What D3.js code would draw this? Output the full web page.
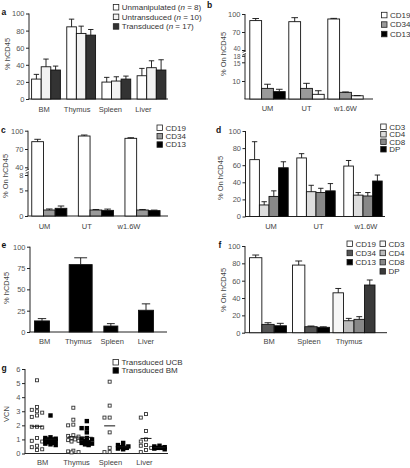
<!DOCTYPE html>
<html><head><meta charset="utf-8">
<script src="https://cdn.jsdelivr.net/npm/d3@7"></script>
<style>
body{margin:0;background:#fff}
svg{font-family:"Liberation Sans",Arial,Helvetica,sans-serif}
</style></head><body>
<svg id="chart" width="410" height="468"></svg>
<script>
// ================= DATA =================
// panel a
const catsA = ["BM","Thymus","Spleen","Liver"];
const seriesA = ["Unmanipulated","Untransduced","Transduced"];
const nA = [8,10,17];
const meanA = [[23.3,84.4,19.8,27.2],[37.7,76.7,21.0,36.6],[33.9,74.7,23.3,33.9]]; // [series][cat]
const sdA   = [[5.5,9.0,5.5,8.6],[9.0,8.5,5.0,8.1],[4.6,6.6,3.5,12.0]];
const ticksA = [0,20,40,60,80,100];
// panel b
const catsB = ["UM","UT","w1.6W"];
const seriesB = ["CD19","CD34","CD13"];
const meanB = [[89,87.2,91.7],[5.9,5.9,3.7],[4.1,2.6,1.8]];
const sdB   = [[3.5,6.7,1.0],[2.3,2.8,0.2],[1.3,2.0,0.1]];
const ticksB = [10,15,18,40,70,100];
// panel c
const catsC = ["UM","UT","w1.6W"];
const seriesC = ["CD19","CD34","CD13"];
const meanC = [[82,91.3,87.5],[1.17,1.17,1.17],[1.5,1.1,1.05]];
const sdC   = [[3.9,1.6,1.0],[0.2,0.1,0.1],[0.45,0.25,0.1]];
const ticksC = [0,5,8,40,70,100];
// panel d
const catsD = ["UM","UT","w1.6W"];
const seriesD = ["CD3","CD4","CD8","DP"];
const meanD = [[66.5,68.5,59],[13.5,29,25],[23.5,28,24],[57,30,41.5]];
const sdD   = [[21,5,6.5],[3.8,7.5,3],[6.5,5,4],[7,8.5,7]];
const ticksD = [0,20,40,60,80,100];
// panel e
const catsE = ["BM","Thymus","Spleen","Liver"];
const meanE = [13,79,7,25.5];
const sdE   = [2.7,8,2.8,7.5];
const ticksE = [0,25,50,75,100];
// panel f
const catsF = ["BM","Spleen","Thymus"];
const seriesF = [["CD19","CD34","CD13"],["CD19","CD34","CD13"],["CD3","CD4","CD8","DP"]];
const meanF = [[86.5,9.6,8],[78,6.9,6.2],[46,13.8,15.4,55]];
const sdF   = [[3.1,1.9,2.8],[4.7,0.8,0.6],[5,2.7,3.1,5.8]];
const legendF1 = ["CD19","CD34","CD13"];
const legendF2 = ["CD3","CD4","CD8","DP"];
const ticksF = [0,20,40,60,80,100];
// panel g (VCN)
const catsG = ["BM","Thymus","Spleen","Liver"];
const seriesG = ["Transduced UCB","Transduced BM"];
const ucbG = [
  [5.2,3.3,3.1,3.0,2.9,2.7,2.6,1.9,1.9,1.85,1.1,0.9,0.85,0.55,0.45,0.3,0.25],
  [3.25,2.4,2.05,2.0,1.3,1.25,1.2,1.1,1.0,0.95,0.9,0.85,0.2,0.15,0.1,0.08],
  [5.1,3.4,2.55,2.55,1.5,0.4,0.1,0.1],
  [2.8,2.55,1.6,1.0,0.85,0.6,0.55,0.4,0.25,0.1]
];
const bmG = [
  [2.7,1.15,1.1,1.05,1.0,1.0,0.95,0.9,0.85,0.8,0.75,0.7,0.65,0.6],
  [2.3,1.8,1.8,1.5,1.1,1.05,1.0,0.9,0.8,0.75,0.7,0.65,0.6],
  [0.75,0.6,0.5,0.45,0.45,0.4,0.35,0.3],
  [0.55,0.5,0.45,0.4,0.4,0.35,0.3]
];
const ticksG = [0,1,2,3,4,5,6];

// ================= STYLE =================
const FS = 7.5, LFS = 8;
const TICKC = "#555", LABC = "#444", AXC = "#222";
const colA = {"Unmanipulated":"#ffffff","Untransduced":"#f2f2f2","Transduced":"#333333"};
const colB = {"CD19":"#ffffff","CD34":"#9a9a9a","CD13":"#000000"};
const fillOverrideB = {"UT|CD13":"#ffffff","w1.6W|CD13":"#ffffff"};
const colC = {"CD19":"#ffffff","CD34":"#9a9a9a","CD13":"#000000"};
const colD = {"CD3":"#ffffff","CD4":"#dddddd","CD8":"#888888","DP":"#000000"};
const colF = {"CD19":"#ffffff","CD34":"#555555","CD13":"#000000","CD3":"#f6f6f6","CD4":"#bbbbbb","CD8":"#888888","DP":"#3a3a3a"};
const barWidthE = [15,23,14,15];
const tickStyleB = {40:{fs:6.3,dy:-1.2},18:{fs:6.3,dy:0.2},15:{fs:6.3,dy:1.2}};

const svg = d3.select("#chart");

function frame(o){
  const g = svg.append("g");
  const r = o.y.range();
  const yBottom = r[0], yTop = r[r.length-1];
  const ax = d3.axisLeft(o.y).tickValues(o.ticks).tickSize(3).tickSizeOuter(0).tickFormat(d=>d);
  const ga = g.append("g").attr("transform",`translate(${o.x0},0)`).call(ax);
  ga.select(".domain").remove();
  ga.selectAll(".tick line").attr("stroke",AXC);
  const ts = o.tickStyle || {};
  ga.selectAll(".tick text").attr("fill",TICKC)
    .style("font-size",d=>(ts[d]?ts[d].fs:FS)+"px").attr("x",-4.5)
    .attr("y",d=>ts[d]?ts[d].dy:0);
  if (o.gap){
    const gm = (o.y(o.gap[0]) + o.y(o.gap[1]))/2;
    g.append("line").attr("x1",o.x0).attr("x2",o.x0).attr("y1",yBottom).attr("y2",gm+1.3).attr("stroke",AXC);
    g.append("line").attr("x1",o.x0).attr("x2",o.x0).attr("y1",gm-1.3).attr("y2",yTop).attr("stroke",AXC);
    [gm+1.3,gm-1.3].forEach(yy=>g.append("line").attr("x1",o.x0-2.5).attr("x2",o.x0+1).attr("y1",yy+0.8).attr("y2",yy-0.8).attr("stroke",AXC).attr("stroke-width",0.8));
  } else {
    g.append("line").attr("x1",o.x0).attr("x2",o.x0).attr("y1",yBottom).attr("y2",yTop).attr("stroke",AXC);
  }
  g.append("line").attr("x1",o.x0-0.5).attr("x2",o.x1).attr("y1",yBottom).attr("y2",yBottom).attr("stroke",AXC);
  svg.append("text").attr("x",o.letter[0]).attr("y",o.letter[1]).text(o.letter[2])
    .style("font-size","8.5px").style("font-weight","bold").attr("fill","#111");
  svg.append("text").attr("transform",`translate(${o.title[0]},${o.title[1]}) rotate(-90)`)
    .attr("text-anchor","middle").attr("dy","0.35em").style("font-size",FS+"px").attr("fill",LABC).text(o.title[2]);
  if (o.cats){
    svg.append("g").selectAll("text").data(o.cats).join("text")
      .attr("x",d=>o.lx(d)).attr("y",yBottom+o.ly).attr("text-anchor","middle")
      .style("font-size",FS+"px").attr("fill",LABC).text(d=>d);
  }
  return g;
}

function bars(g, items, y){
  const base = y.range()[0];
  g.append("g").selectAll("rect").data(items).join("rect")
    .attr("x",d=>d.x).attr("width",d=>d.w).attr("y",d=>y(d.v)).attr("height",d=>base-y(d.v))
    .attr("fill",d=>d.fill).attr("stroke","#111").attr("stroke-width",0.9);
  const eb = g.append("g").attr("stroke","#111").attr("stroke-width",0.9);
  items.filter(d=>d.sd>0).forEach(d=>{
    const cx = d.x + d.w/2, cw = d.w*0.28;
    eb.append("line").attr("x1",cx).attr("x2",cx).attr("y1",y(d.v)).attr("y2",y(d.v+d.sd));
    eb.append("line").attr("x1",cx-cw).attr("x2",cx+cw).attr("y1",y(d.v+d.sd)).attr("y2",y(d.v+d.sd));
  });
}

function legend(entries, x, y0, dy, colorOf, label){
  const g = svg.append("g");
  entries.forEach((e,i)=>{
    g.append("rect").attr("x",x).attr("y",y0+i*dy-5.5).attr("width",5.5).attr("height",5.5)
      .attr("fill",colorOf(e,i)).attr("stroke","#222").attr("stroke-width",0.8);
    const t = g.append("text").attr("x",x+8.5).attr("y",y0+i*dy).style("font-size",LFS+"px").attr("fill","#333");
    label(t,e,i);
  });
}

function grouped(g, cats, series, mean, sd, xc, bw, y, colorOf){
  const items=[];
  cats.forEach((c,ci)=>{
    const inner = d3.scaleBand().domain(series).range([xc(c)-bw*series.length/2, xc(c)+bw*series.length/2]);
    series.forEach((s,si)=>items.push({x:inner(s), w:inner.bandwidth(), v:mean[si][ci], sd:sd[si][ci], fill:colorOf(c,s)}));
  });
  bars(g, items, y);
}

// ---------- panel a ----------
{
  const y = d3.scaleLinear().domain([0,100]).range([99,13.5]);
  const xc = d3.scalePoint().domain(catsA).range([46,151.5]);
  const lx = d3.scalePoint().domain(catsA).range([44,143.5]);
  const g = frame({x0:29,x1:168,y,ticks:ticksA,letter:[1.5,15,"a"],title:[7.5,54,"% hCD45"],cats:catsA,lx,ly:12.5});
  grouped(g,catsA,seriesA,meanA,sdA,xc,9.6,y,(c,s)=>colA[s]);
  legend(seriesA,113.3,10,9.6,s=>colA[s],(t,s,i)=>{
    t.append("tspan").text(s+" (");
    t.append("tspan").style("font-style","italic").text("n");
    t.append("tspan").text(" = "+nA[i]+")");
  });
}
// ---------- panel b ----------
{
  const y = d3.scaleLinear().domain([0,10,15,18,40,70,100]).range([99,81,62.3,55.8,50,32,14]);
  const xc = d3.scalePoint().domain(catsB).range([267.5,345.5]);
  const g = frame({x0:245,x1:373,y,ticks:ticksB,tickStyle:tickStyleB,gap:[18,40],letter:[207,8,"b"],title:[223.5,54,"% On hCD45"],cats:catsB,lx:xc,ly:12});
  grouped(g,catsB,seriesB,meanB,sdB,xc,11.8,y,(c,s)=>fillOverrideB[c+"|"+s]||colB[s]);
  legend(seriesB,381.5,17.8,9.5,s=>colB[s],(t,s)=>t.text(s));
}
// ---------- panel c ----------
{
  const y = d3.scaleLinear().domain([0,8,40,100]).range([216,175,167.3,130.7]);
  const xc = d3.scalePoint().domain(catsC).range([49.3,142.5]);
  const lx = d3.scalePoint().domain(catsC).range([44.5,129]);
  const g = frame({x0:28,x1:168,y,ticks:ticksC,gap:[8,40],letter:[1,132.5,"c"],title:[5.5,176,"% On hCD45"],cats:catsC,lx,ly:12.5});
  grouped(g,catsC,seriesC,meanC,sdC,xc,11.7,y,(c,s)=>colC[s]);
  legend(seriesC,157,130.5,8.4,s=>colC[s],(t,s)=>t.text(s));
}
// ---------- panel d ----------
{
  const y = d3.scaleLinear().domain([0,100]).range([216.5,131]);
  const xc = d3.scalePoint().domain(catsD).range([269,363]);
  const lx = d3.scalePoint().domain(catsD).range([271,366]);
  const g = frame({x0:245.5,x1:385,y,ticks:ticksD,letter:[216,133,"d"],title:[220,178,"% On hCD45"],cats:catsD,lx,ly:12.5});
  grouped(g,catsD,seriesD,meanD,sdD,xc,9.6,y,(c,s)=>colD[s]);
  legend(seriesD,380.7,129.5,7.5,s=>colD[s],(t,s)=>t.text(s));
}
// ---------- panel e ----------
{
  const y = d3.scaleLinear().domain([0,100]).range([332,246.7]);
  const xl = d3.scalePoint().domain(catsE).range([34.5,138.5]);
  const lx = d3.scalePoint().domain(catsE).range([44.5,146]);
  const g = frame({x0:30,x1:167,y,ticks:ticksE,letter:[1.5,247.5,"e"],title:[6.5,288,"% hCD45"],cats:catsE,lx,ly:12.3});
  bars(g, catsE.map((c,i)=>({x:xl(c), w:barWidthE[i], v:meanE[i], sd:sdE[i], fill:"#000"})), y);
}
// ---------- panel f ----------
{
  const y = d3.scaleLinear().domain([0,100]).range([332.7,246]);
  const xc = d3.scalePoint().domain(catsF).range([268,354]);
  const lx = d3.scalePoint().domain(catsF).range([269,349]);
  const g = frame({x0:245,x1:387,y,ticks:ticksF,letter:[218.5,248,"f"],title:[223,290,"% On hCD45"],cats:catsF,lx,ly:11.5});
  const items=[];
  catsF.forEach((c,ci)=>{
    const ser = seriesF[ci];
    const bw = ser.length===3 ? 12.3 : 10.5;
    const inner = d3.scaleBand().domain(ser).range([xc(c)-bw*ser.length/2, xc(c)+bw*ser.length/2]);
    ser.forEach((s,si)=>items.push({x:inner(s), w:inner.bandwidth(), v:meanF[ci][si], sd:sdF[ci][si], fill:colF[s]}));
  });
  bars(g, items, y);
  legend(legendF1,347,246.5,9.2,s=>colF[s],(t,s)=>t.text(s));
  legend(legendF2,380,246.5,9.2,s=>colF[s],(t,s)=>t.text(s));
}
// ---------- panel g ----------
{
  const y = d3.scaleLinear().domain([0,6]).range([453.5,369]);
  const xc = d3.scalePoint().domain(catsG).range([43.5,152.5]);
  const lx = d3.scalePoint().domain(catsG).range([42.5,144.5]);
  const g = frame({x0:25,x1:168,y,ticks:ticksG,letter:[1.5,370.5,"g"],title:[6,414,"VCN"],cats:catsG,lx,ly:11.5});
  const SZ = 3.8;
  const cands = [0,-1.8,1.8,-3.6,3.6,-5.2,5.2];
  function swarm(vals, cx){
    const pts = vals.map(v=>({v, y:y(v)})).sort((a,b)=>a.y-b.y);
    const placed=[];
    pts.forEach(p=>{
      let best = cx, bestScore = Infinity;
      cands.forEach(off=>{
        const s = placed.reduce((acc,q)=>acc + Math.max(0,SZ-Math.abs(q.y-p.y))*Math.max(0,SZ-Math.abs(q.x-(cx+off))),0);
        if (s < bestScore - 1e-9){ bestScore = s; best = cx+off; }
      });
      p.x = best;
      placed.push(p);
    });
    return placed;
  }
  catsG.forEach((c,ci)=>{
    const cu = xc(c)-6.5, cb = xc(c)+7;
    g.append("g").selectAll("rect").data(swarm(ucbG[ci],cu)).join("rect")
      .attr("x",d=>d.x-SZ/2+0.4).attr("y",d=>d.y-SZ/2+0.4).attr("width",SZ-0.8).attr("height",SZ-0.8)
      .attr("fill","#fff").attr("stroke","#333").attr("stroke-width",0.9);
    g.append("g").selectAll("rect").data(swarm(bmG[ci],cb)).join("rect")
      .attr("x",d=>d.x-2.2).attr("y",d=>d.y-2.2).attr("width",4.4).attr("height",4.4).attr("fill","#000");
    g.append("line").attr("x1",cu-5.5).attr("x2",cu+5.5).attr("y1",y(d3.mean(ucbG[ci]))).attr("y2",y(d3.mean(ucbG[ci]))).attr("stroke","#111");
    g.append("line").attr("x1",cb-6).attr("x2",cb+6).attr("y1",y(d3.mean(bmG[ci]))).attr("y2",y(d3.mean(bmG[ci]))).attr("stroke","#111");
  });
  legend(seriesG,113,365,8.2,(s,i)=>i===0?"#fff":"#000",(t,s)=>t.text(s));
}
</script>
</body></html>
